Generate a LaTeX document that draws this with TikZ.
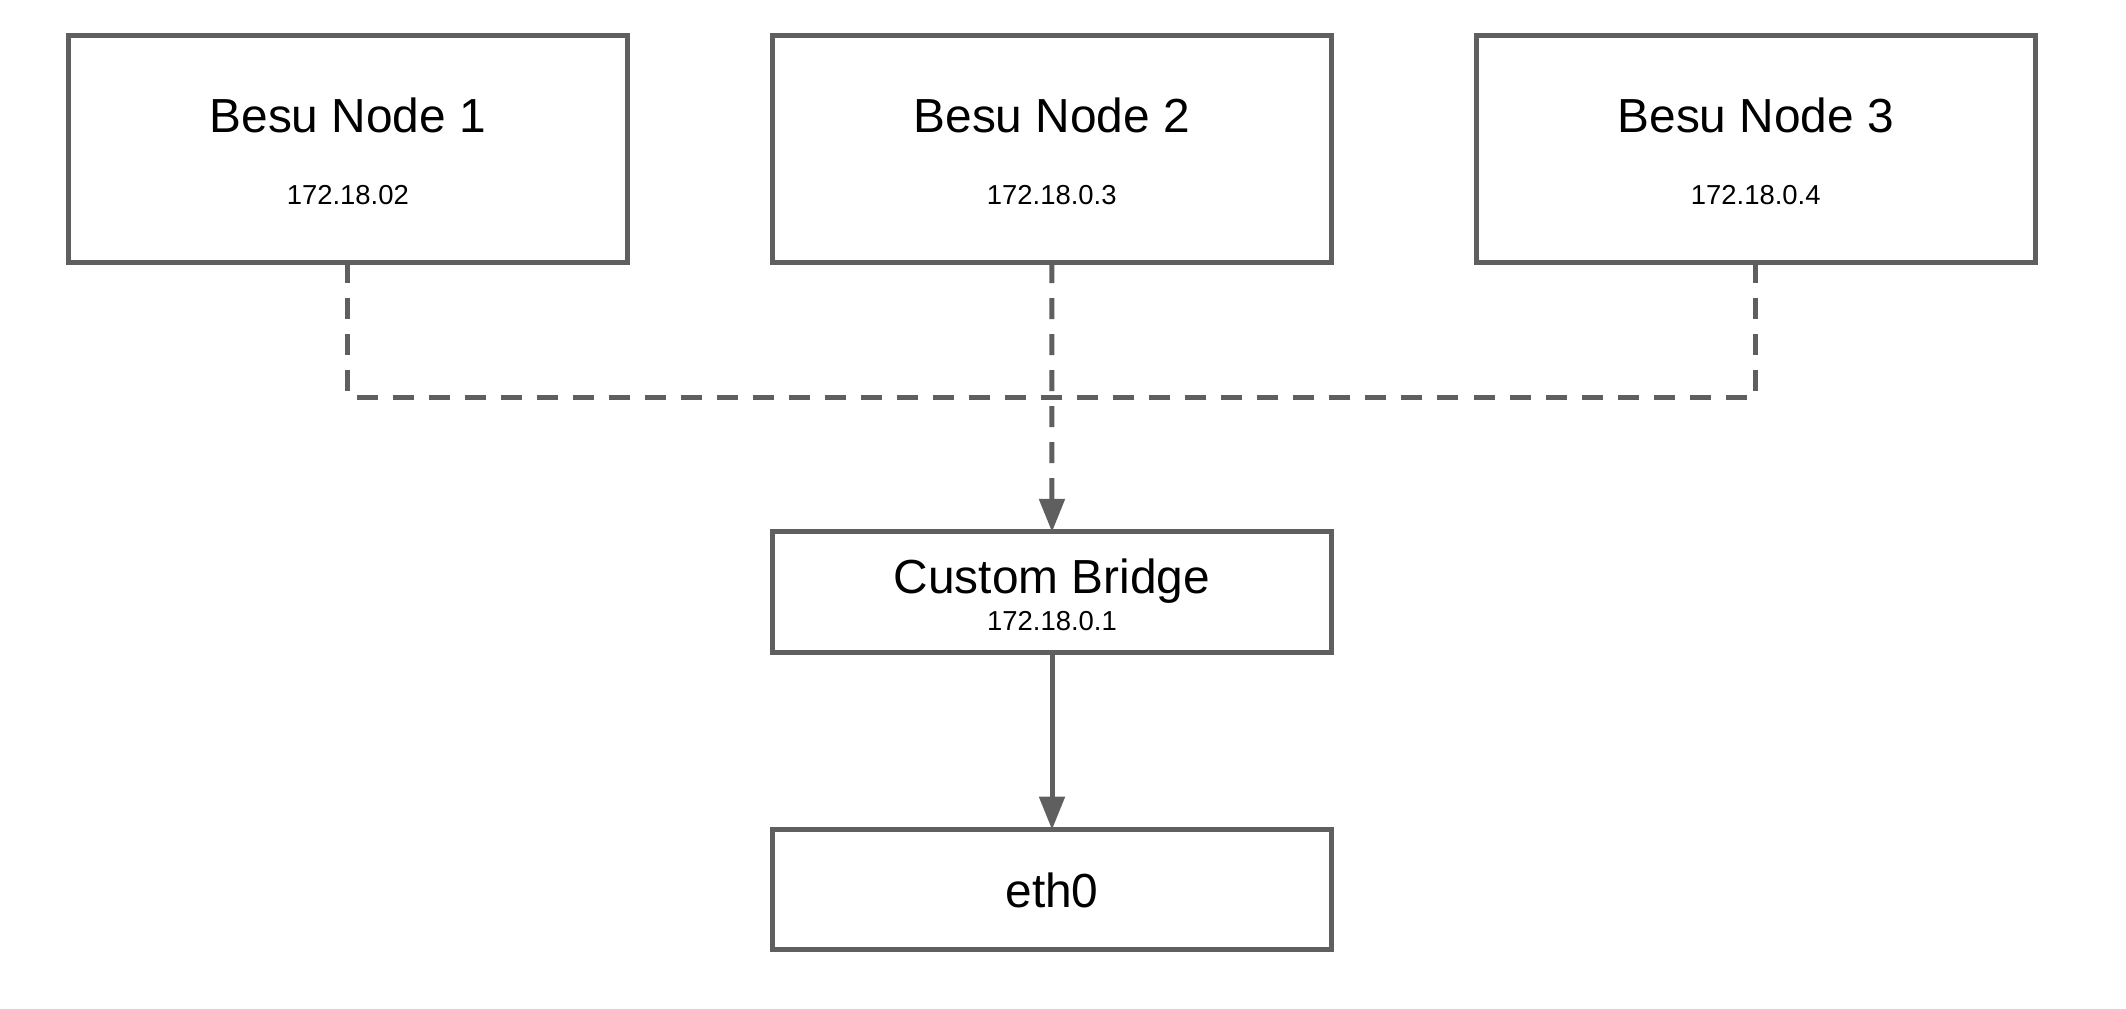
\documentclass[tikz,border=0pt]{standalone}
\usepackage{fontspec}
\setmainfont{Liberation Sans}
\usepackage{tikz}
\usetikzlibrary{arrows.meta}
\definecolor{linegray}{HTML}{5F5F5F}
\newcommand*\boxwd  {5.59cm}
\newcommand*\lw     {0.05cm}
\newcommand*\colgap {704}
\tikzset{
    hostbox/.style   = {draw=linegray, line width=\lw, rectangle,
                       minimum width=\boxwd, minimum height=2.26cm,
                       inner sep=0pt, outer sep=0pt},
    portbox/.style   = {hostbox, minimum height=1.20cm},
    titletext/.style = {anchor=base, inner sep=0pt, font=\fontsize{13.6}{16}\selectfont},
    iptext/.style    = {anchor=base, inner sep=0pt, font=\fontsize{7.8}{9}\selectfont},
    dashlink/.style  = {draw=linegray, line width=\lw, dash pattern=on 0.21cm off 0.15cm},
    solidlink/.style = {draw=linegray, line width=\lw},
    tip/.style       = {-{Triangle[length=0.33cm, width=0.25cm]}},
  }

\begin{document}
\begin{tikzpicture}[x=0.01cm, y=-0.01cm]
      \useasboundingbox (0,0) rectangle (2126,1008);

      % Draw the three Besu nodes and name them N1, N2, N3
      \foreach \ip [count=\i from 1] in {172.18.02,172.18.0.3,172.18.0.4} {
        \node[hostbox] (N\i) at ({347.8+(\i-1)*\colgap},149) {};
        \node[titletext] (N\i-t) at ({347.8+(\i-1)*\colgap},132) {Besu Node \i};
        \node[iptext] (N\i-ip) at ({347.8+(\i-1)*\colgap},204) {\ip};
      }

      % Bridge and host interface below the middle node
      \node[portbox] (B) at (1052,592) {};
      \node[titletext] (B-t) at (1052,593) {Custom Bridge};
      \node[iptext] (B-ip) at (1052,630) {172.18.0.1};
      \node[portbox] (E) at (1052,889.7) {};
      \node[titletext] (E-t) at (1052,907) {eth0};

      % Dashed links into the bridge
      \coordinate (J) at (1052,397);
      \draw[dashlink] (N1.south) |- (J);
      \draw[dashlink] (N3.south) |- (J);
      \draw[dashlink,tip] (N2.south) -- (B.north);

      % Bridge to eth0
      \draw[solidlink,tip] (B.south) -- (E.north);
    \end{tikzpicture}
\end{document}
